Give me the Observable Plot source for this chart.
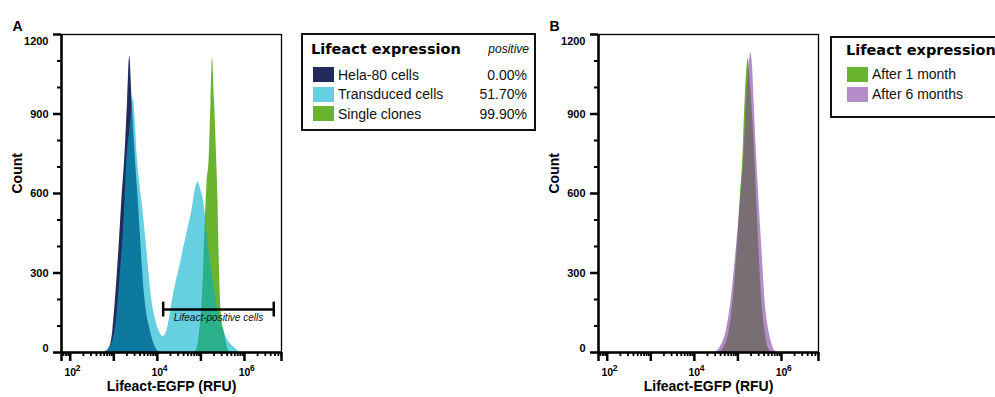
<!DOCTYPE html>
<html>
<head>
<meta charset="utf-8">
<script src="https://cdn.jsdelivr.net/npm/d3@7"></script>
<script src="https://cdn.jsdelivr.net/npm/@observablehq/plot@0.6"></script>
<style>
  body { margin: 0; background: #fff; }
  #root { position: relative; width: 995px; height: 397px; overflow: hidden; background: #fff;
          font-family: "Liberation Sans", Arial, sans-serif; }
  .panel { position: absolute; top: 0; }
  .box { position: absolute; border: 2px solid #111; box-sizing: border-box; background: #fff; }
  .ttl { position: absolute; font-family: "DejaVu Sans", sans-serif; font-weight: bold; font-size: 14.5px;
         line-height: 16px; white-space: nowrap; color: #000; }
  .note { position: absolute; font-style: italic; font-size: 12px; line-height: 14px; color: #111; white-space: nowrap; }
  .lbl { position: absolute; font-size: 14px; line-height: 16px; white-space: nowrap; color: #111; }
  .sw { position: absolute; width: 21px; height: 15px; }
</style>
</head>
<body>
<div id="root"></div>
<script>
// Fluorescence histograms (Lifeact-EGFP intensity, RFU) with event counts.

// Panel A: Hela-80 parental cells
const helaRFU   = [640, 834, 951, 1086, 1305, 1529, 1773, 2076, 2319, 2620, 2950, 3280, 3650, 4160, 4740, 5560, 6870, 8470, 9930, 11600];
const helaCount = [0, 26, 83, 196, 385, 574, 725, 951, 1117, 958, 800, 680, 574, 420, 272, 160, 83, 30, 8, 0];

// Panel A: transduced population
const transRFU   = [577, 751, 927, 1145, 1413, 1744, 1990, 2332, 2803, 3114, 3459, 3948, 4505, 5273, 6180, 7236, 8935, 11030, 13620, 16820, 20760, 25630, 33360, 43420, 50820, 62790, 73500, 86060, 100800, 118000, 138300, 162100, 200000, 247000, 304800, 418800, 574100, 787000];
const transCount = [0, 15, 40, 120, 300, 520, 725, 838, 958, 870, 740, 640, 560, 450, 330, 215, 130, 80, 60, 85, 170, 250, 330, 420, 470, 540, 610, 642, 610, 560, 450, 350, 250, 160, 100, 45, 20, 0];

// Panel A: single clones
const cloneRFU   = [69700, 81700, 90800, 100800, 112000, 124500, 138300, 153800, 170700, 184900, 205500, 230600, 247000, 260400, 281900, 304800, 338800, 397200, 464600];
const cloneCount = [0, 15, 60, 140, 260, 480, 640, 725, 950, 1110, 950, 725, 574, 385, 196, 120, 83, 25, 0];

// Panel B: clone after 1 month and after 6 months
const month1RFU   = [37100, 48200, 62800, 77500, 95700, 112000, 131000, 146000, 173000, 190000, 216000, 240000, 270000, 305000, 352000, 419000, 490000, 605000];
const month1Count = [0, 20, 80, 196, 385, 574, 750, 951, 1109, 1030, 900, 760, 574, 385, 196, 80, 20, 0];
const month6RFU   = [30000, 39100, 53600, 69700, 90800, 115100, 138300, 157800, 179900, 196800, 216300, 234400, 267300, 304800, 357300, 418800, 516400, 638300, 787000];
const month6Count = [0, 20, 80, 196, 385, 574, 750, 951, 1080, 1130, 1080, 951, 750, 574, 385, 196, 80, 20, 0];

// Gate for Lifeact-positive events
const gateFrom = [13600];
const gateTo = [4700000];
const gateLevel = [162];
const gateLabel = ["Lifeact-positive cells"];

// Axes
const xDomain = [63, 7080000];
const xDecadeExp = [2, 4, 6];
const yDomain = [0, 1200];
const yMajor = [0, 300, 600, 900, 1200];
const yMinor = [100, 200, 400, 500, 700, 800, 1000, 1100];
const xTitle = "Lifeact-EGFP (RFU)";
const yTitle = "Count";

// Legends
const legendATitle = "Lifeact expression";
const legendANote = "positive";
const legendANames = ["Hela-80 cells", "Transduced cells", "Single clones"];
const legendAPositive = ["0.00%", "51.70%", "99.90%"];
const legendBTitle = "Lifeact expression";
const legendBNames = ["After 1 month", "After 6 months"];

const FONT = "Liberation Sans, Arial, sans-serif";
const NAVY = "#232a5c", CYAN_SOLID = "#00afcb", CYAN_SEEN = "#63cfe0";
const GREEN = "#6ab42f", PURPLE_SOLID = "#823fa3", PURPLE_SEEN = "#b48cc8";

function rows(rfu, count) { return rfu.map((x, i) => ({x, y: count[i]})); }

function histogramPanel({letter, series, gate}) {
  const minor = [];
  for (let k = 1; k <= 6; k++) for (let m = 2; m <= 9; m++) {
    const v = m * 10 ** k;
    if (v > xDomain[0] && v < xDomain[1]) minor.push(v);
  }
  const major = [xDomain[0]];
  for (let k = 2; k <= 6; k++) major.push(10 ** k);
  major.push(xDomain[1]);

  const marks = [];
  for (const s of series) {
    marks.push(Plot.areaY(rows(s.rfu, s.count), {
      x: "x", y: "y", fill: s.fill, fillOpacity: s.opacity, curve: "monotone-x"
    }));
  }
  marks.push(
    Plot.frame({stroke: "#000", strokeWidth: 1.3}),
    Plot.ruleX([xDomain[0]], {stroke: "#000", strokeWidth: 2.5}),
    Plot.ruleY([0], {stroke: "#000", strokeWidth: 2.5}),
    Plot.axisY({ticks: yMinor, tickSize: 4, strokeWidth: 2, tickFormat: () => "", label: null}),
    Plot.axisY({ticks: yMajor, tickSize: 8, strokeWidth: 2.5, tickFormat: () => "", label: null}),
    Plot.text(yMajor.filter(d => d > 0 && d < 1200), {y: d => d, text: d => `${d}`, frameAnchor: "left",
      textAnchor: "end", dx: -13, fontSize: 11, fontWeight: "bold", fill: "#000"}),
    Plot.text(yMajor.filter(d => d === 1200), {y: d => d, text: d => `${d}`, frameAnchor: "left",
      textAnchor: "end", dx: -13, dy: 7, fontSize: 11, fontWeight: "bold", fill: "#000"}),
    Plot.text(yMajor.filter(d => d === 0), {y: d => d, text: d => `${d}`, frameAnchor: "left",
      textAnchor: "end", dx: -13, dy: -4, fontSize: 11, fontWeight: "bold", fill: "#000"}),
    Plot.axisX({ticks: minor, tickSize: 4, strokeWidth: 1.8, tickFormat: () => "", label: null}),
    Plot.axisX({ticks: major, tickSize: 9, strokeWidth: 2.5, tickFormat: () => "", label: null}),
    Plot.text(xDecadeExp, {x: e => 10 ** e, text: () => "10", frameAnchor: "bottom", dy: 23.5,
      fontSize: 10.5, fontWeight: "bold", fill: "#000"}),
    Plot.text(xDecadeExp, {x: e => 10 ** e, text: e => `${e}`, frameAnchor: "bottom", dx: 5.5, dy: 18,
      textAnchor: "start", fontSize: 8.5, fontWeight: "bold", fill: "#000"}),
    Plot.text([xTitle], {frameAnchor: "bottom", dy: 38, fontSize: 14, fontWeight: "bold", fill: "#000"}),
    Plot.text([yTitle], {frameAnchor: "left", dx: -44, rotate: -90, fontSize: 14, fontWeight: "bold", fill: "#000"}),
    Plot.text([letter], {frameAnchor: "top-left", dx: -49, dy: -13, textAnchor: "start", fontSize: 14,
      fontWeight: "bold", fill: "#000"})
  );
  if (gate) {
    const g = gateFrom.map((from, i) => ({from, to: gateTo[i], level: gateLevel[i], label: gateLabel[i]}));
    const capHalf = 28; // half the end-cap height, in count units
    const ends = g.flatMap(d => [{x: d.from, level: d.level}, {x: d.to, level: d.level}]);
    marks.push(
      Plot.ruleY(g, {x1: "from", x2: "to", y: "level", stroke: "#000", strokeWidth: 2.5}),
      Plot.ruleX(ends, {x: "x", y1: d => d.level - capHalf, y2: d => d.level + capHalf, stroke: "#000", strokeWidth: 2.5}),
      Plot.text(g, {x: d => Math.sqrt(d.from * d.to), y: "level", text: "label", dy: 8,
        fontStyle: "italic", fontSize: 10, fill: "#111"})
    );
  }
  return Plot.plot({
    width: 300, height: 397,
    marginLeft: 61, marginRight: 19, marginTop: 34, marginBottom: 45,
    style: {fontFamily: FONT, background: "transparent", overflow: "visible"},
    x: {type: "log", domain: xDomain},
    y: {domain: yDomain},
    marks
  });
}

const root = document.getElementById("root");

function place(el, left) {
  const wrap = document.createElement("div");
  wrap.className = "panel";
  wrap.style.left = left + "px";
  wrap.appendChild(el);
  root.appendChild(wrap);
}

place(histogramPanel({
  letter: "A",
  series: [
    {rfu: helaRFU, count: helaCount, fill: NAVY, opacity: 1},
    {rfu: cloneRFU, count: cloneCount, fill: GREEN, opacity: 1},
    {rfu: transRFU, count: transCount, fill: CYAN_SOLID, opacity: 0.6}
  ],
  gate: true
}), 0);

place(histogramPanel({
  letter: "B",
  series: [
    {rfu: month1RFU, count: month1Count, fill: GREEN, opacity: 1},
    {rfu: month6RFU, count: month6Count, fill: PURPLE_SOLID, opacity: 0.6}
  ],
  gate: false
}), 537);

function div(cls, css, text) {
  const d = document.createElement("div");
  d.className = cls;
  Object.assign(d.style, css);
  if (text != null) d.textContent = text;
  root.appendChild(d);
  return d;
}

// Legend A
div("box", {left: "301px", top: "33px", width: "235px", height: "98px"});
div("ttl", {left: "311px", top: "41px"}, legendATitle);
div("note", {right: (995 - 529) + "px", top: "42px"}, legendANote);
[NAVY, CYAN_SEEN, GREEN].forEach((c, i) => {
  const cy = 74.5 + i * 19.5;
  div("sw", {left: "313px", top: (cy - 7.5) + "px", background: c});
  div("lbl", {left: "338px", top: (cy - 8) + "px"}, legendANames[i]);
  div("lbl", {right: (995 - 527) + "px", top: (cy - 8) + "px"}, legendAPositive[i]);
});

// Legend B
div("box", {left: "830px", top: "36px", width: "220px", height: "82px"});
div("ttl", {left: "846px", top: "42px"}, legendBTitle);
[GREEN, PURPLE_SEEN].forEach((c, i) => {
  const cy = 74 + i * 20;
  div("sw", {left: "847px", top: (cy - 7.5) + "px", background: c});
  div("lbl", {left: "872px", top: (cy - 8) + "px"}, legendBNames[i]);
});
</script>
</body>
</html>
